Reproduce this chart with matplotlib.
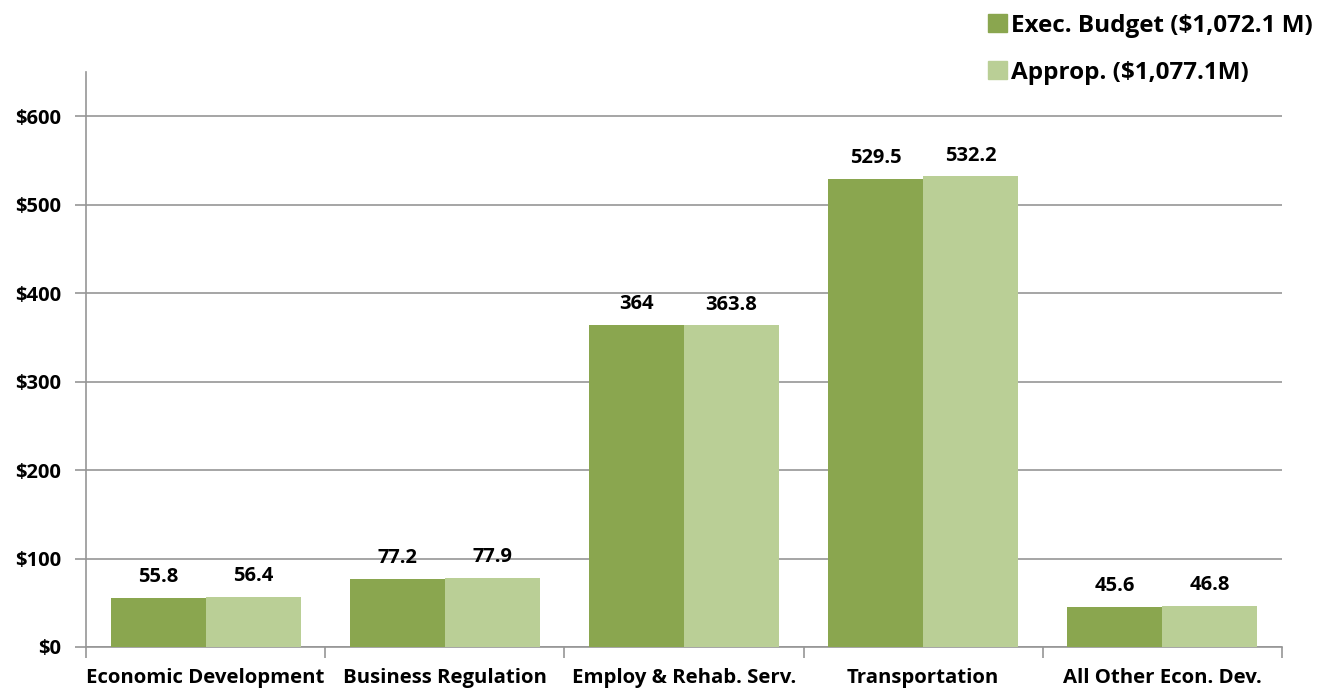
import numpy as np
import matplotlib.pyplot as plt
from matplotlib.patches import Patch

categories = ["Economic Development", "Business Regulation", "Employ & Rehab. Serv.",
              "Transportation", "All Other Econ. Dev."]
exec_budget = [55.8, 77.2, 364, 529.5, 45.6]
approp = [56.4, 77.9, 363.8, 532.2, 46.8]
series_names = ["Exec. Budget ($1,072.1 M)", "Approp. ($1,077.1M)"]
yticks = [0, 100, 200, 300, 400, 500, 600]

dark_green = "#8aa64f"
light_green = "#bacf96"
grid_grey = "#969696"

plt.rcParams["font.family"] = ["Open Sans", "DejaVu Sans"]
plt.rcParams["font.weight"] = "bold"

fig = plt.figure(figsize=(13.31, 6.91), dpi=100)
ax = fig.add_axes([0.0646, 0.0637, 0.8986, 0.8321])

x = np.arange(len(categories))
w = 0.397
b1 = ax.bar(x - w / 2, exec_budget, w, color=dark_green, zorder=3)
b2 = ax.bar(x + w / 2, approp, w, color=light_green, zorder=3)

for bars, vals in ((b1, exec_budget), (b2, approp)):
    for rect, v in zip(bars, vals):
        ax.text(rect.get_x() + rect.get_width() / 2, v + 12, f"{v:g}",
                ha="center", va="bottom", fontsize=14.5, fontweight="bold")

ax.set_xlim(-0.5, len(categories) - 0.5)
ax.set_ylim(0, 650)
ax.set_yticks(yticks)
ax.set_yticklabels([f"${t}" for t in yticks], fontsize=14.5, fontweight="bold")
ax.yaxis.grid(True, color=grid_grey, linewidth=1.2, zorder=0)

# category labels centered, tick marks on the boundaries
ax.set_xticks(x)
ax.set_xticklabels(categories, fontsize=14.7, fontweight="bold")
ax.tick_params(axis="x", length=0, pad=15)
ax.set_xticks(np.arange(-0.5, len(categories)), minor=True)
ax.tick_params(axis="x", which="minor", length=8, color=grid_grey, width=1.2)
ax.tick_params(axis="y", length=8, color=grid_grey, width=1.2, pad=10)

for s in ["top", "right"]:
    ax.spines[s].set_visible(False)
for s in ["left", "bottom"]:
    ax.spines[s].set_color(grid_grey)
    ax.spines[s].set_linewidth(1.2)

handles = [Patch(color=dark_green), Patch(color=light_green)]
fig.legend(handles, series_names, loc="upper right", bbox_to_anchor=(1.003, 1.012),
           frameon=False, prop={"size": 17.5, "weight": "bold"},
           handlelength=0.75, handleheight=0.75, handletextpad=0.2, labelspacing=0.95)

fig.savefig("out.png", dpi=100)
